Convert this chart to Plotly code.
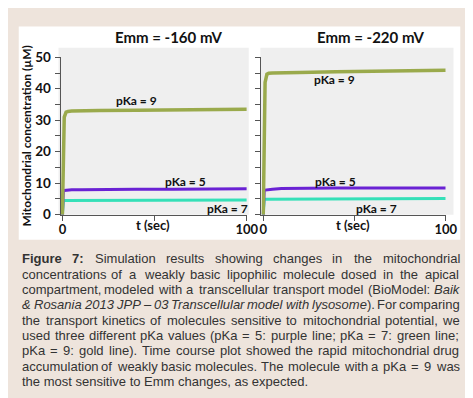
import re
import plotly.graph_objects as go

# ---------------- data ----------------
t = [0, 0.5, 1, 2, 3, 5, 10, 20, 40, 60, 80, 100]
left_pka9 = [0, 25, 31, 32.6, 32.8, 32.9, 33.0, 33.1, 33.2, 33.3, 33.4, 33.5]
left_pka5 = [0, 7.5, 7.7, 7.8, 7.8, 7.9, 7.9, 8.0, 8.1, 8.1, 8.2, 8.2]
left_pka7 = [0, 4.4, 4.5, 4.5, 4.5, 4.6, 4.6, 4.6, 4.7, 4.7, 4.7, 4.7]
right_pka9 = [0, 30, 42, 44.6, 44.9, 45.0, 45.1, 45.2, 45.4, 45.6, 45.7, 45.9]
right_pka5 = [0, 7.6, 7.8, 7.9, 8.0, 8.1, 8.3, 8.4, 8.5, 8.5, 8.5, 8.5]
right_pka7 = [0, 4.8, 4.9, 4.9, 5.0, 5.0, 5.0, 5.0, 5.1, 5.1, 5.1, 5.1]

panel_titles = ["Emm = -160 mV", "Emm = -220 mV"]
y_title = "Mitochondrial concentration (µM)"
x_title = "t (sec)"
y_ticks = [0, 10, 20, 30, 40, 50]
x_tickvals = [0, 50, 100]
x_ticktext = ["0", "", "100"]

caption_lines = [
    "<b>Figure 7:</b> Simulation results showing changes in the mitochondrial",
    "concentrations of a weakly basic lipophilic molecule dosed in the apical",
    "compartment, modeled with a transcellular transport model (BioModel: <i>Baik</i>",
    "<i>& Rosania 2013 JPP – 03 Transcellular model with lysosome</i>). For comparing",
    "the transport kinetics of molecules sensitive to mitochondrial potential, we",
    "used three different pKa values (pKa = 5: purple line; pKa = 7: green line;",
    "pKa = 9: gold line). Time course plot showed the rapid mitochondrial drug",
    "accumulation of weakly basic molecules. The molecule with a pKa = 9 was",
    "the most sensitive to Emm changes, as expected.",
]

# ---------------- helpers ----------------
W, H = 473, 398


def px(x):
    return x / W


def py(y):
    return 1 - y / H


C9 = "#9aaa4c"
C5 = "#6a22d4"
C7 = "#35e0b8"
AX = "#555555"
CHART_FONT = "Lato, Open Sans, sans-serif"

fig = go.Figure()

series = [
    (left_pka7, right_pka7, C7, 3),
    (left_pka5, right_pka5, C5, 3),
    (left_pka9, right_pka9, C9, 3.5),
]
for lv, rv, col, w in series:
    fig.add_trace(go.Scatter(x=t, y=lv, mode="lines", line=dict(color=col, width=w),
                             xaxis="x", yaxis="y", showlegend=False))
    fig.add_trace(go.Scatter(x=t, y=rv, mode="lines", line=dict(color=col, width=w),
                             xaxis="x2", yaxis="y2", showlegend=False))

yd = [py(207), py(43)]
xaxis_common = dict(range=[-1, 100], tickvals=x_tickvals, ticktext=x_ticktext,
                    showline=True, linecolor=AX, linewidth=1, ticks="outside",
                    ticklen=5, tickcolor=AX, showgrid=False, zeroline=False,
                    ticklabelstandoff=-2,
                    tickfont=dict(family=CHART_FONT, size=13, color="#111", weight="bold"))
yaxis_common = dict(range=[0, 50], tickvals=y_ticks, showline=True, linecolor=AX,
                    linewidth=1, ticks="outside", ticklen=5, tickcolor=AX,
                    showgrid=False, zeroline=False, ticklabelstandoff=1,
                    minor=dict(dtick=5, ticks="outside", ticklen=5, tickcolor=AX),
                    tickfont=dict(family=CHART_FONT, size=13.5, color="#111", weight="bold"))

fig.update_layout(
    width=W, height=H, autosize=False,
    margin=dict(l=0, r=0, t=0, b=0),
    paper_bgcolor="#eee4dc", plot_bgcolor="rgba(0,0,0,0)",
    xaxis=dict(domain=[px(52.1), px(244)], anchor="y", **xaxis_common),
    xaxis2=dict(domain=[px(259.1), px(449)], anchor="y2", **xaxis_common),
    yaxis=dict(domain=yd, anchor="x", **yaxis_common),
    yaxis2=dict(domain=yd, anchor="x2", showticklabels=False, **yaxis_common),
)

shapes = [
    dict(type="rect", xref="paper", yref="paper", x0=px(9), x1=px(464), y0=py(233), y1=py(11),
         fillcolor="white", line=dict(width=0), layer="below"),
    dict(type="rect", xref="paper", yref="paper", x0=px(50), x1=px(246), y0=py(207), y1=py(33),
         fillcolor="#efefef", line=dict(width=0), layer="below"),
    dict(type="rect", xref="paper", yref="paper", x0=px(258), x1=px(457), y0=py(207), y1=py(33),
         fillcolor="#efefef", line=dict(width=0), layer="below"),
]
fig.update_layout(shapes=shapes)

ann = []


def chart_text(text, x, y, xref="paper", yref="paper", size=13, angle=0):
    ann.append(dict(text=text, x=x, y=y, xref=xref, yref=yref, showarrow=False,
                    xanchor="center", yanchor="middle", textangle=angle,
                    font=dict(family=CHART_FONT, size=size, color="#111", weight="bold")))


chart_text(panel_titles[0], px(163), py(22), size=15)
chart_text(panel_titles[1], px(372), py(22), size=15)
chart_text(y_title, px(17), py(125), size=12, angle=-90)
chart_text(x_title, px(147), py(218), size=13)
chart_text(x_title, px(353), py(218), size=13)
chart_text("pKa = 9", 40, 36.3, "x", "y", size=12)
chart_text("pKa = 5", 67, 10.4, "x", "y", size=12)
chart_text("pKa = 7", 89.5, 1.9, "x", "y", size=12)
chart_text("pKa = 9", 39, 43, "x2", "y2", size=12)
chart_text("pKa = 5", 39.5, 10.6, "x2", "y2", size=12)
chart_text("pKa = 7", 62, 1.9, "x2", "y2", size=12)

# ---------------- caption (justified using Arial metrics) ----------------
REG = {" ": 278, "!": 278, "&": 667, "(": 333, ")": 333, ",": 278, "-": 333, ".": 278,
       ":": 278, ";": 278, "=": 584, "–": 556, "µ": 556}
for ch in "0123456789":
    REG[ch] = 556
REG.update(dict(zip("ABCDEFGHIJKLMNOPQRSTUVWXYZ",
                    [667, 667, 722, 722, 667, 611, 778, 722, 278, 500, 667, 556, 833,
                     722, 778, 667, 778, 722, 667, 611, 722, 667, 944, 667, 667, 611])))
REG.update(dict(zip("abcdefghijklmnopqrstuvwxyz",
                    [556, 556, 500, 556, 556, 278, 556, 556, 222, 222, 500, 222, 833,
                     556, 556, 556, 556, 333, 500, 278, 556, 500, 722, 500, 500, 500])))
BOLD = dict(REG)
BOLD.update({"g": 611, "u": 611, "r": 389, "i": 278, ":": 333, "F": 611})

CAP_SIZE = 13
CAP_FONT = "Liberation Sans, Arial, sans-serif"
CAP_LEFT, CAP_RIGHT = 12, 462


def tokenize(line):
    words = []
    runs = []
    width = 0.0
    style = "r"
    for tok in re.findall(r"</?[bi]>|.", line):
        if tok in ("<b>", "<i>"):
            style = tok[1]
            continue
        if tok in ("</b>", "</i>"):
            style = "r"
            continue
        if tok == " ":
            if runs:
                words.append((runs, width))
            runs, width = [], 0.0
            continue
        table = BOLD if style == "b" else REG
        width += table.get(tok, 556) / 1000 * CAP_SIZE
        if runs and runs[-1][0] == style:
            runs[-1][1] += tok
        else:
            runs.append([style, tok])
    if runs:
        words.append((runs, width))
    return words


def to_html(runs):
    out = ""
    for s, txt in runs:
        txt = txt.replace("&", "&amp;")
        out += txt if s == "r" else f"<{s}>{txt}</{s}>"
    return out


def cap_ann(text, x, y):
    ann.append(dict(text=text, x=px(x), y=y, xref="paper", yref="paper",
                    showarrow=False, xanchor="left", yanchor="middle",
                    borderpad=0, borderwidth=0,
                    font=dict(family=CAP_FONT, size=CAP_SIZE, color="#333333")))


line_y0, line_dy = 253, 16
for i, line in enumerate(caption_lines):
    ypos = py(line_y0 + i * line_dy)
    if i == len(caption_lines) - 1:
        cap_ann(line, CAP_LEFT, ypos)
        continue
    words = tokenize(line)
    total = sum(w for _, w in words)
    gap = (CAP_RIGHT - CAP_LEFT - total) / (len(words) - 1)
    x = CAP_LEFT
    for runs, w in words:
        cap_ann(to_html(runs), x, ypos)
        x += w + gap

fig.update_layout(annotations=ann)
fig.write_html("out.html")
